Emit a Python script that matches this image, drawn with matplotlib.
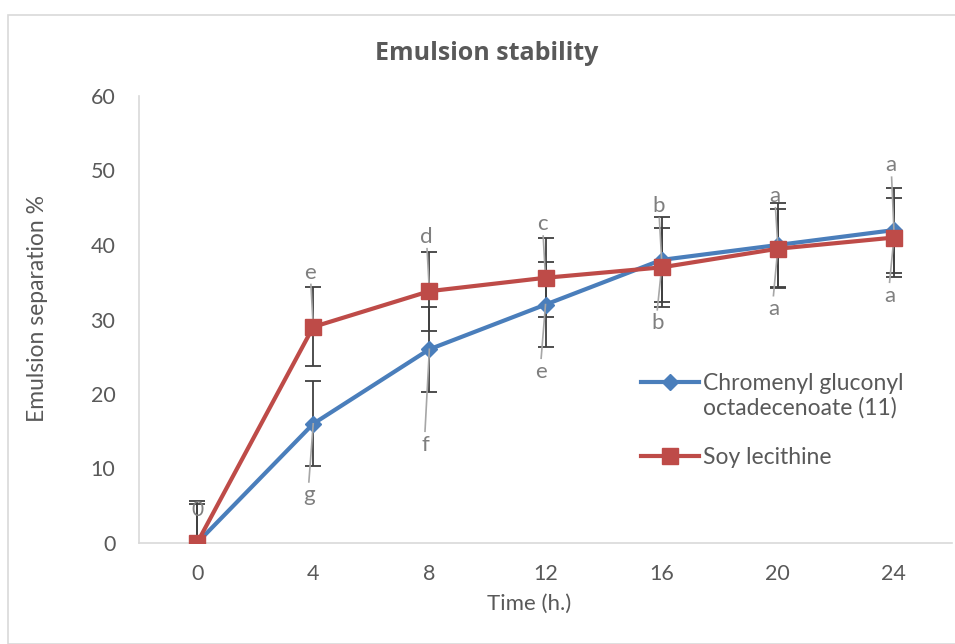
import matplotlib
matplotlib.use("Agg")
import matplotlib.pyplot as plt
from matplotlib.patches import Rectangle
from matplotlib.lines import Line2D

# ---- data ----
time_h = [0, 4, 8, 12, 16, 20, 24]
chromenyl = [0, 16, 26, 32, 38, 40, 42]
soy = [0, 29, 33.8, 35.6, 37, 39.5, 41]
chromenyl_err = [5.7, 5.7, 5.7, 5.7, 5.7, 5.7, 5.7]
soy_err = [5.3, 5.3, 5.3, 5.3, 5.3, 5.3, 5.3]
chromenyl_letters = ["0", "g", "f", "e", "b", "a", "a"]
soy_letters = ["0", "e", "d", "c", "b", "a", "a"]
x_ticklabels = ["0", "4", "8", "12", "16", "20", "24"]
y_ticks = [0, 10, 20, 30, 40, 50, 60]
legend_line1 = ["Chromenyl gluconyl", "octadecenoate (11)"]
legend_line2 = ["Soy lecithine"]

FONT = "Lato"
TXT = "#595959"
BLUE = "#4A7EBB"
RED = "#BE4B48"

fig = plt.figure(figsize=(9.55, 6.44), dpi=100)
fig.patches.append(Rectangle((8 / 955, 0), 1, (644 - 15) / 644, transform=fig.transFigure,
                             fill=False, edgecolor="#D9D9D9", linewidth=1.2))
ax = fig.add_axes([139 / 955, 101 / 644, (952 - 139) / 955, (543 - 96) / 644])

ax.errorbar(time_h, chromenyl, yerr=chromenyl_err, fmt="none", ecolor="#404040",
            elinewidth=1.3, capsize=6, capthick=1.3, zorder=2)
ax.errorbar(time_h, soy, yerr=soy_err, fmt="none", ecolor="#404040",
            elinewidth=1.3, capsize=6, capthick=1.3, zorder=2)
l1, = ax.plot(time_h, chromenyl, color=BLUE, lw=3, marker="D", markersize=8,
              markerfacecolor=BLUE, markeredgecolor=BLUE, zorder=3)
l2, = ax.plot(time_h, soy, color=RED, lw=3, marker="s", markersize=11,
              markerfacecolor=RED, markeredgecolor=RED, zorder=4)

# significance letters with leader lines
up_off = [4.4, 7.3, 7.3, 7.2, 7.2, 6.6, 8.7]
dn_off = [4.4, 9.6, 12.8, 9.0, 7.5, 8.1, 7.8]
for i, t in enumerate(time_h):
    c, s = chromenyl[i], soy[i]
    if i == 0:
        ax.text(t, c + up_off[i], chromenyl_letters[i], ha="center", va="center",
                color="#7F7F7F", fontsize=15, family=FONT, zorder=5)
        continue
    if s >= c:
        hi, hi_lab, lo, lo_lab = s, soy_letters[i], c, chromenyl_letters[i]
    else:
        hi, hi_lab, lo, lo_lab = c, chromenyl_letters[i], s, soy_letters[i]
    yu = hi + up_off[i]
    yl = lo - dn_off[i]
    ax.text(t - 0.1, yu, hi_lab, ha="center", va="center", color="#7F7F7F",
            fontsize=16, family=FONT, zorder=5)
    ax.text(t - 0.15, yl, lo_lab, ha="center", va="center", color="#7F7F7F",
            fontsize=16, family=FONT, zorder=5)
    ax.plot([t, t - 0.08], [hi, yu - 1.6], color="#A6A6A6", lw=1.2, zorder=3.5)
    ax.plot([t, t - 0.15], [lo, yl + 1.8], color="#A6A6A6", lw=1.2, zorder=3.5)

ax.set_xlim(-2, 26)
ax.set_ylim(0, 60)
ax.set_xticks(time_h)
ax.set_xticklabels(x_ticklabels)
ax.set_yticks(y_ticks)
for sp in ["top", "right"]:
    ax.spines[sp].set_visible(False)
for sp in ["left", "bottom"]:
    ax.spines[sp].set_color("#D9D9D9")
    ax.spines[sp].set_linewidth(1.2)
ax.tick_params(axis="both", length=0, labelsize=15.5, labelcolor=TXT)
ax.tick_params(axis="y", pad=17)
ax.tick_params(axis="x", pad=15)
for lab in ax.get_xticklabels() + ax.get_yticklabels():
    lab.set_family(FONT)

fig.text(529 / 955, 1 - 604 / 644, "Time (h.)", ha="center", va="center",
         fontsize=16, color=TXT, family=FONT)
fig.text(38 / 955, 1 - 308 / 644, "Emulsion separation %", ha="center", va="center",
         rotation=90, fontsize=16.5, color=TXT, family=FONT)
fig.text(487 / 955, 1 - 53 / 644, "Emulsion stability", ha="center", va="center",
         fontsize=18, fontweight="bold", color=TXT, family="Open Sans")

blank = Line2D([], [], linestyle="none")
leg1 = ax.legend([l1, blank], legend_line1, loc="upper left",
                 bbox_to_anchor=((630 - 139) / 813, (543 - 362) / 447),
                 frameon=False, prop={"family": FONT, "size": 16.5},
                 handlelength=2.5, handletextpad=0.2, labelspacing=0.12,
                 labelcolor=TXT, borderpad=0)
ax.add_artist(leg1)
leg2 = ax.legend([l2], legend_line2, loc="upper left",
                 bbox_to_anchor=((630 - 139) / 813, (543 - 436) / 447),
                 frameon=False, prop={"family": FONT, "size": 16.5},
                 handlelength=2.5, handletextpad=0.2, labelcolor=TXT, borderpad=0)

fig.savefig("out.png", dpi=100)
